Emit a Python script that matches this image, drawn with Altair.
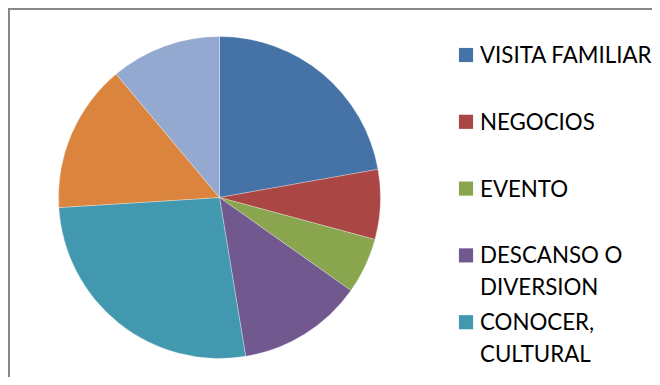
import altair as alt
import pandas as pd

categories = ["VISITA FAMILIAR", "NEGOCIOS", "EVENTO", "DESCANSO O DIVERSION",
              "CONOCER, CULTURAL", "ESTUDIOS", "OTROS"]
values = [22.2, 7.0, 5.6, 12.6, 26.6, 14.9, 11.1]
colors = ["#4572A7", "#AA4643", "#89A54E", "#71588F", "#4198AF", "#DB843D", "#93A9CF"]
legend_labels = ["VISITA FAMILIAR", "NEGOCIOS", "EVENTO", "DESCANSO O\nDIVERSION",
                 "CONOCER,\nCULTURAL"]

df = pd.DataFrame({"cat": categories, "value": values, "idx": list(range(len(categories)))})
leg = pd.DataFrame({"cat": categories[:5], "label": legend_labels})

color_scale = alt.Scale(domain=categories, range=colors)

pie = alt.Chart(df).mark_arc(radius=161, stroke="white", strokeWidth=0.3).encode(
    theta=alt.Theta("value:Q", stack=True),
    color=alt.Color("cat:N", scale=color_scale, legend=None),
    order=alt.Order("idx:Q"),
    x=alt.value(211.5),
    y=alt.value(189.5),
)

yscale = alt.Scale(domain=categories[:5], range=[47, 314.2], padding=0)

squares = alt.Chart(leg).mark_square(size=200, opacity=1).encode(
    x=alt.value(458),
    y=alt.Y("cat:N", scale=yscale, axis=None),
    color=alt.Color("cat:N", scale=color_scale, legend=None),
)

texts = alt.Chart(leg).mark_text(
    align="left", baseline="alphabetic", dy=8, font="Lato", fontSize=22.3,
    lineBreak="\n", lineHeight=32, color="#000000",
).encode(
    x=alt.value(472),
    y=alt.Y("cat:N", scale=yscale, axis=None),
    text="label:N",
)

border_top = alt.Chart(leg).mark_rule(color="#868686", strokeWidth=2).encode(
    x=alt.value(0), x2=alt.value(644), y=alt.value(0.5)
)
border_left = alt.Chart(leg).mark_rule(color="#868686", strokeWidth=2).encode(
    x=alt.value(0.5), y=alt.value(0), y2=alt.value(369)
)

chart = alt.layer(pie, squares, texts, border_top, border_left).properties(
    width=644, height=369, padding=0, autosize="none",
).configure_view(stroke=None)

chart.save("out.html", embed_options={"renderer": "svg", "actions": False})
